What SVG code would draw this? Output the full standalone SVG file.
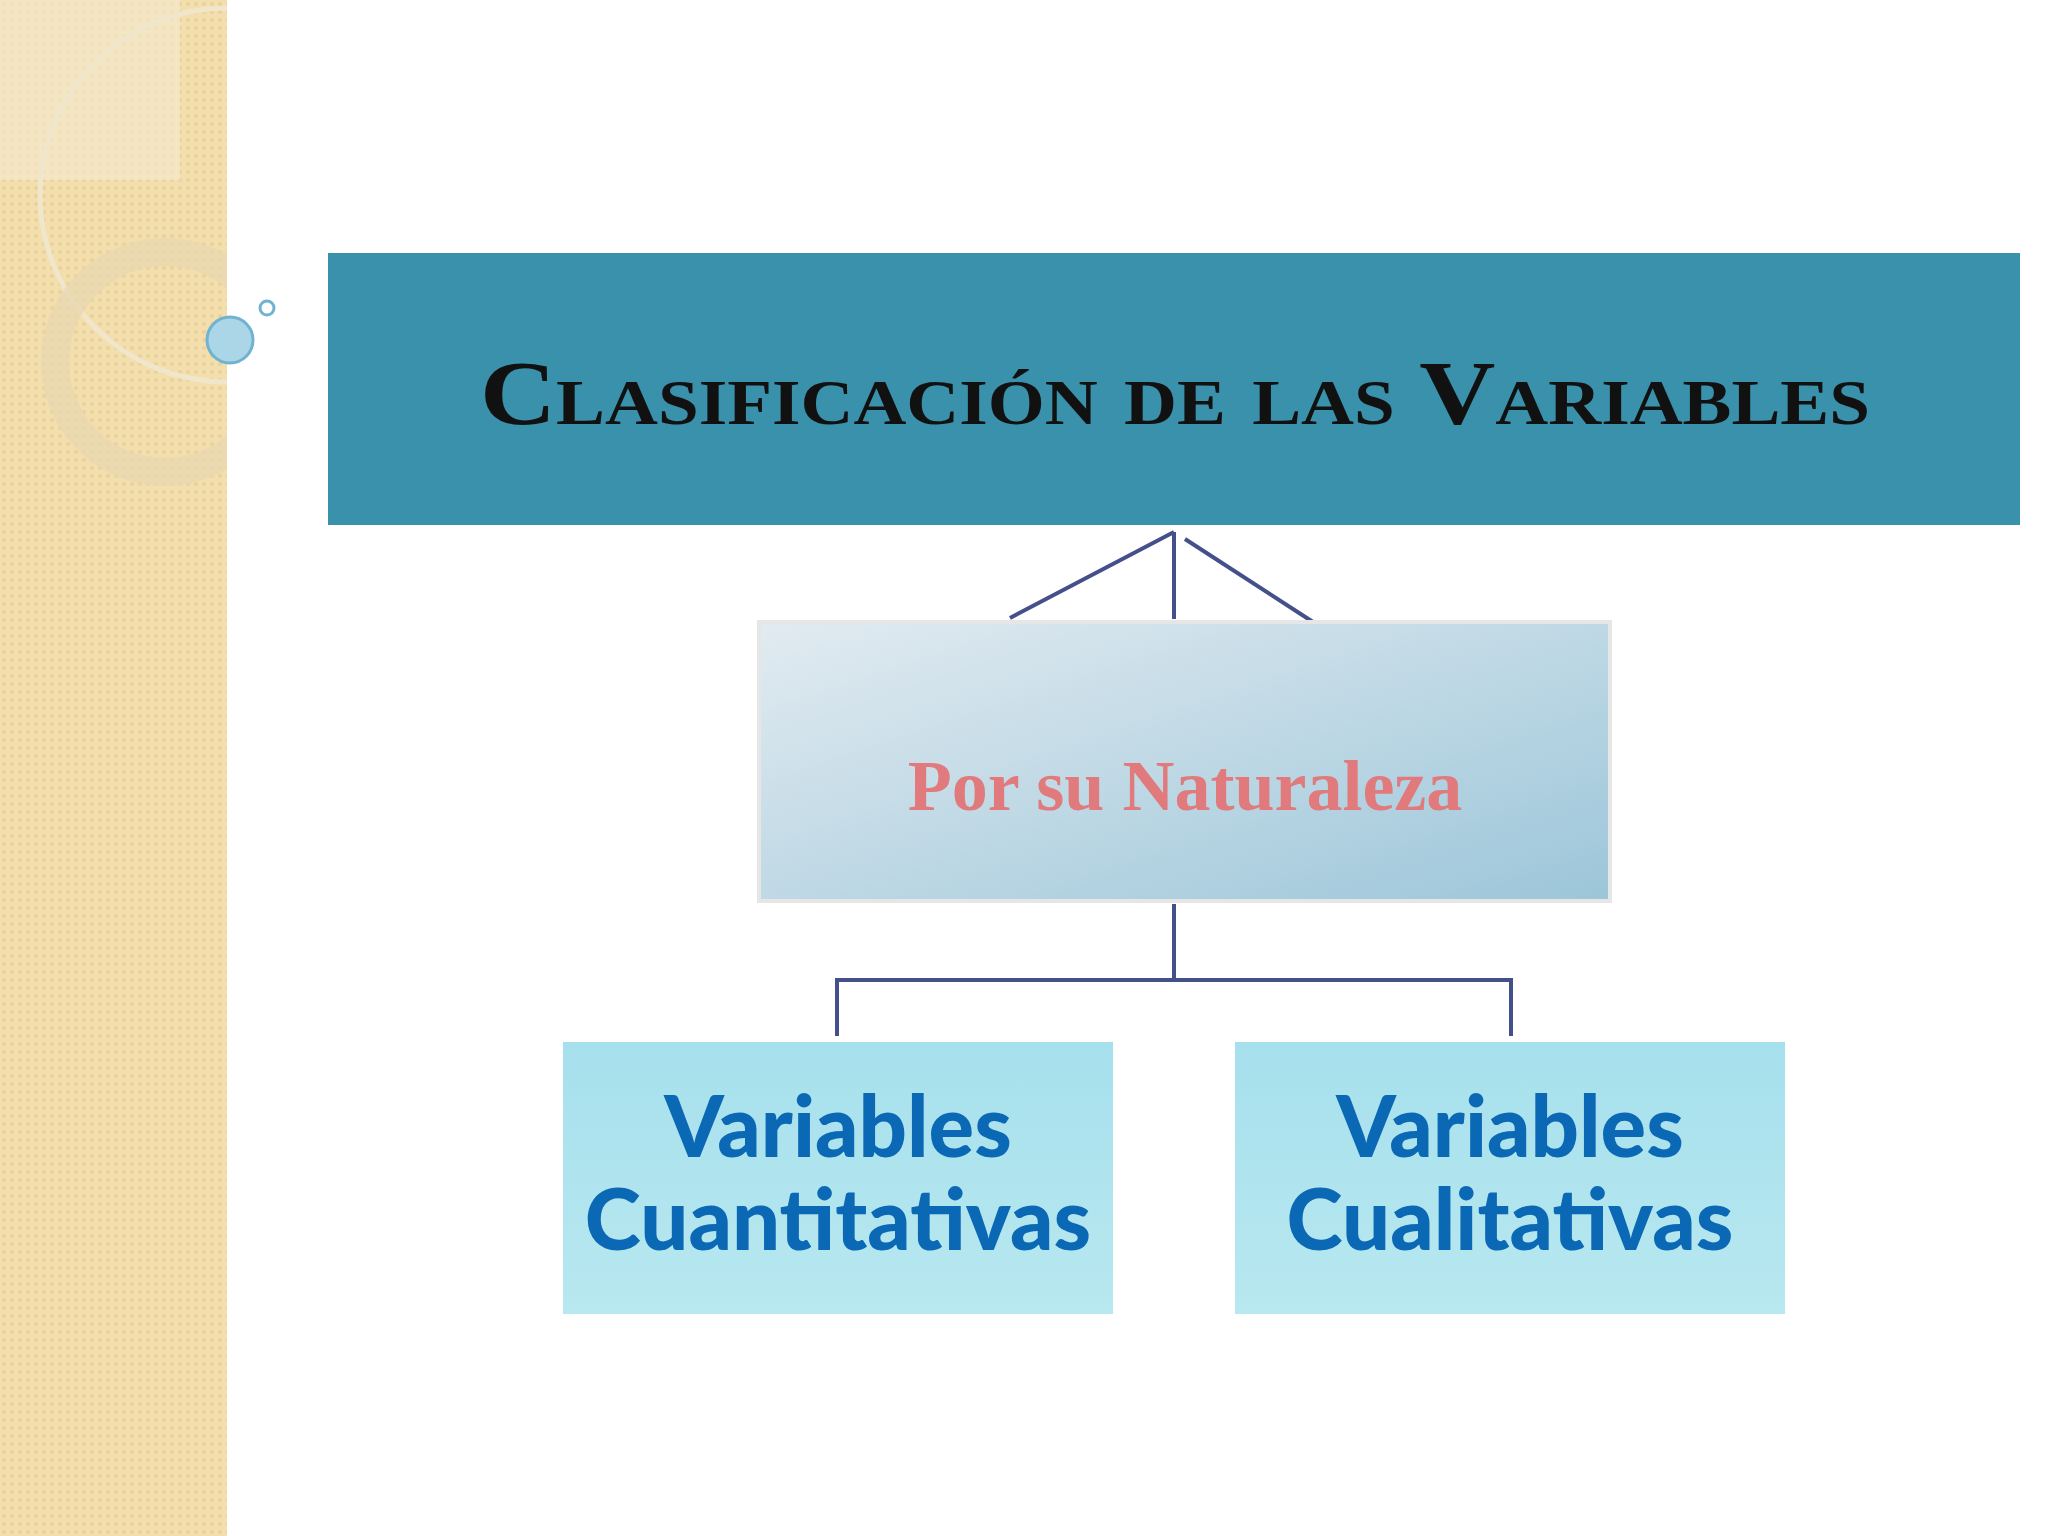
<svg xmlns="http://www.w3.org/2000/svg" width="2048" height="1536" viewBox="0 0 2048 1536">
<defs>
<style>
.conn{stroke:#44508a;stroke-width:4;fill:none}
.leaf{fill:#0a68b5;font-family:Lato,"Open Sans",sans-serif;font-weight:900;font-size:85px;text-anchor:middle}
</style>
<linearGradient id="mid" x1="0" y1="0" x2="1" y2="1"><stop offset="0" stop-color="#e2ebf1"/><stop offset="1" stop-color="#9cc6d9"/></linearGradient>
<linearGradient id="water" x1="0" y1="0" x2="0" y2="1"><stop offset="0" stop-color="#a6e0ec"/><stop offset="1" stop-color="#b8e8f0"/></linearGradient>
<pattern id="dots" width="8" height="8" patternUnits="userSpaceOnUse"><rect width="8" height="8" fill="#f3dfae"/><circle cx="4" cy="4" r="2" fill="#ead199"/></pattern>
<clipPath id="side"><rect width="227" height="1536"/></clipPath>
</defs>
<rect width="2048" height="1536" fill="#fff"/>
<g id="sidebar">
<rect width="227" height="1536" fill="url(#dots)"/>
<g clip-path="url(#side)">
<rect x="0" y="0" width="180" height="180" fill="#f5ebd0" opacity="0.6"/>
<circle cx="227" cy="195" r="187" fill="none" stroke="#f0e6cc" stroke-width="5"/>
<circle cx="165" cy="362" r="110" fill="none" stroke="#e8d7b0" stroke-width="28" opacity="0.8"/>
</g>
<circle cx="230" cy="340" r="23" fill="#aad6e8" stroke="#6fb3d0" stroke-width="3"/>
<circle cx="267" cy="308" r="7" fill="#fff" stroke="#6fb3d0" stroke-width="3"/>
</g>
<g id="title">
<rect x="328" y="253" width="1692" height="272" fill="#3a91ab"/>
<text x="480" y="424" textLength="1390" lengthAdjust="spacingAndGlyphs" font-family="'Liberation Serif',serif" font-size="92" font-weight="bold" font-variant="small-caps" fill="#111">Clasificación de las Variables</text>
</g>
<g id="connectors">
<path class="conn" d="M1174 532V619M1174 532L1010 618M1185 539L1313 622"/>
<path class="conn" d="M1174 904V980M837 1036V980H1511V1036"/>
</g>
<g id="naturaleza">
<rect x="759" y="622" width="851" height="279" fill="url(#mid)" stroke="#e6e6e6" stroke-width="4"/>
<text x="1185" y="810" font-family="'Liberation Serif',serif" font-size="72" font-weight="bold" text-anchor="middle" fill="#e07a7c">Por su Naturaleza</text>
</g>
<g id="cuantitativas">
<rect x="563" y="1042" width="550" height="272" fill="url(#water)"/>
<text class="leaf" x="838" y="1157">Variables</text>
<text class="leaf" x="838" y="1250">Cuantitativas</text>
</g>
<g id="cualitativas">
<rect x="1235" y="1042" width="550" height="272" fill="url(#water)"/>
<text class="leaf" x="1510" y="1157">Variables</text>
<text class="leaf" x="1510" y="1250">Cualitativas</text>
</g>
</svg>
